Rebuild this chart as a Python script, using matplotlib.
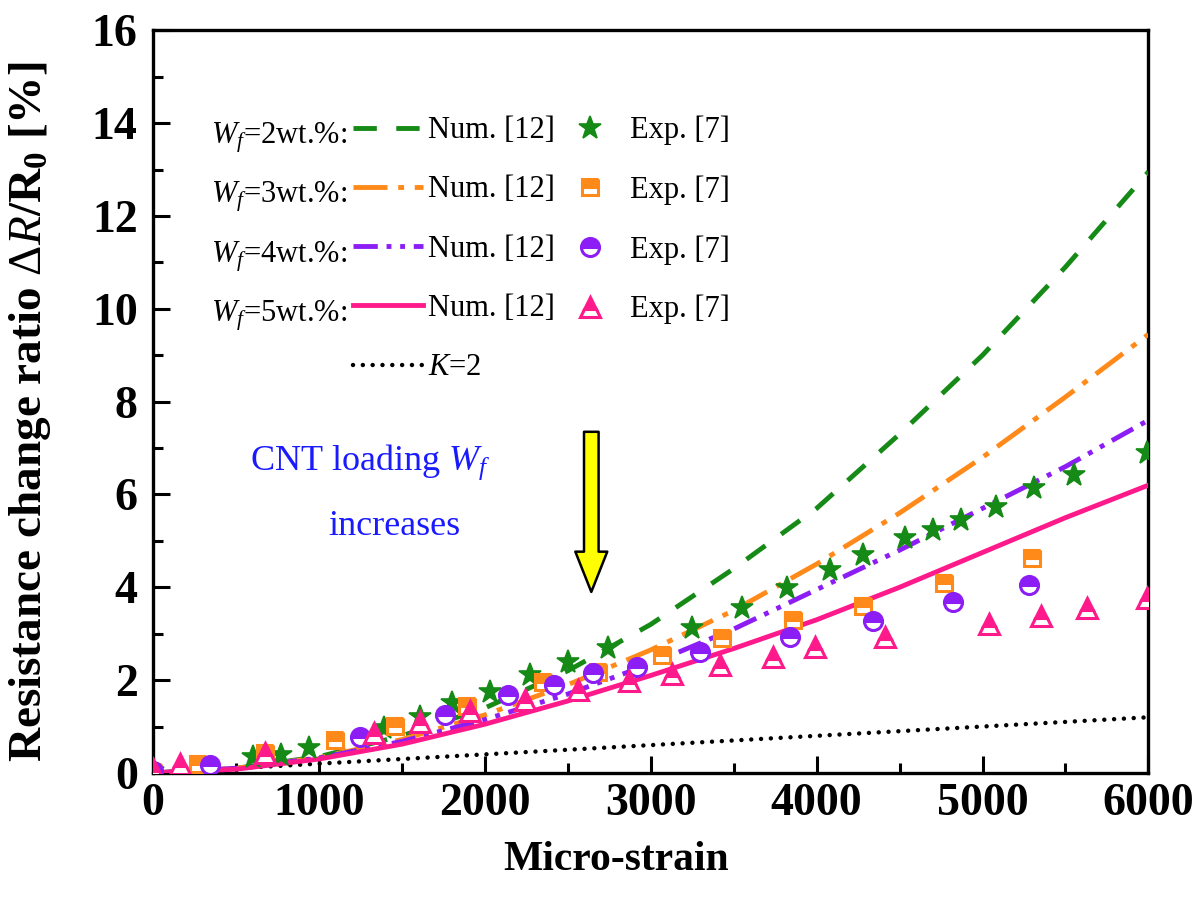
import numpy as np
import matplotlib
matplotlib.use("Agg")
import matplotlib.pyplot as plt

plt.rcParams['font.family'] = ['Liberation Serif', 'DejaVu Serif']
plt.rcParams['mathtext.fontset'] = 'custom'
plt.rcParams['mathtext.rm'] = 'Liberation Serif'
plt.rcParams['mathtext.it'] = 'Liberation Serif:italic'
plt.rcParams['mathtext.bf'] = 'Liberation Serif:bold'

# numerical curves [12]
strain_num = [0, 500, 1000, 1500, 2000, 2500, 3000, 3500, 4000, 4500, 5000, 5500, 6000]
num_2wt = [0, 0.10, 0.35, 0.80, 1.40, 2.20, 3.20, 4.40, 5.70, 7.30, 9.00, 10.90, 12.95]
num_3wt = [0, 0.10, 0.33, 0.72, 1.25, 1.90, 2.65, 3.50, 4.50, 5.60, 6.80, 8.10, 9.45]
num_4wt = [0, 0.10, 0.32, 0.68, 1.15, 1.70, 2.35, 3.10, 3.95, 4.80, 5.70, 6.60, 7.60]
num_5wt = [0, 0.08, 0.30, 0.62, 1.05, 1.55, 2.10, 2.68, 3.30, 4.00, 4.75, 5.50, 6.20]

# K=2 reference
strain_k2 = [0, 6000]
k2_vals = [0, 1.2]

# experiments [7]
exp2_x = [0, 600, 770, 940, 1390, 1610, 1800, 2030, 2270, 2500, 2740, 3250, 3550, 3820,
          4080, 4280, 4530, 4700, 4870, 5080, 5310, 5550, 5990]
exp2_y = [0.05, 0.34, 0.39, 0.54, 0.97, 1.21, 1.51, 1.75, 2.11, 2.39, 2.69, 3.12, 3.56, 3.99,
          4.37, 4.70, 5.06, 5.24, 5.45, 5.73, 6.14, 6.42, 6.90]
exp3_x = [0, 270, 675, 1100, 1460, 1890, 2350, 2680, 3070, 3430, 3860, 4280, 4770, 5300]
exp3_y = [0.03, 0.19, 0.43, 0.71, 1.01, 1.44, 1.96, 2.18, 2.54, 2.90, 3.30, 3.60, 4.09, 4.63]
exp4_x = [0, 345, 1250, 1760, 2140, 2420, 2650, 2920, 3300, 3840, 4340, 4820, 5280]
exp4_y = [0.05, 0.17, 0.78, 1.25, 1.68, 1.90, 2.15, 2.28, 2.60, 2.93, 3.27, 3.68, 4.05]
exp5_x = [0, 160, 675, 1330, 1610, 1910, 2240, 2560, 2870, 3130, 3420, 3740, 3990, 4410,
          5040, 5350, 5630, 5990]
exp5_y = [0.08, 0.19, 0.43, 0.86, 1.10, 1.33, 1.57, 1.79, 1.98, 2.13, 2.33, 2.50, 2.72, 2.93,
          3.20, 3.38, 3.56, 3.78]

wf_labels = ['2wt.%', '3wt.%', '4wt.%', '5wt.%']
colors = ['#168a16', '#ff8a1a', '#8c1ef5', '#ff1a8c']

fig = plt.figure(figsize=(12, 9.18), dpi=100)
ax = fig.add_axes([0.1275, 0.158, 0.8295, 0.809])

lw = 3.5
l2, = ax.plot(strain_num, num_2wt, color=colors[0], lw=lw, dashes=(4.8, 4.0), zorder=3)
l3, = ax.plot(strain_num, num_3wt, color=colors[1], lw=lw, dashes=(7, 2.2, 1.2, 2.2), zorder=3)
l4, = ax.plot(strain_num, num_4wt, color=colors[2], lw=lw, dashes=(5, 1.8, 1, 1.8, 1, 1.8), zorder=3)
l5, = ax.plot(strain_num, num_5wt, color=colors[3], lw=lw, zorder=3)
lk, = ax.plot(strain_k2, k2_vals, color='black', lw=3.2, dashes=(0.01, 2.2),
              dash_capstyle='round', zorder=2)

m2, = ax.plot(exp2_x, exp2_y, ls='none', marker='*', ms=17, mfc=colors[0], mec=colors[0],
              mew=1.2, zorder=4)
m3, = ax.plot(exp3_x, exp3_y, ls='none', marker='s', ms=12, mfc=colors[1], mec=colors[1],
              mfcalt='white', fillstyle='top', mew=2.2, zorder=4)
m4, = ax.plot(exp4_x, exp4_y, ls='none', marker='o', ms=13, mfc=colors[2], mec=colors[2],
              mfcalt='white', fillstyle='top', mew=2.2, zorder=4)
m5, = ax.plot(exp5_x, exp5_y, ls='none', marker='^', ms=14, mfc=colors[3], mec=colors[3],
              mfcalt='white', fillstyle='top', mew=2.2, zorder=4)

ax.set_xlim(0, 6000)
ax.set_ylim(0, 16)
ax.set_xticks(range(0, 6001, 1000))
ax.set_yticks(range(0, 17, 2))
ax.set_xticks(range(500, 6000, 1000), minor=True)
ax.set_yticks(range(1, 16, 2), minor=True)
ax.tick_params(which='both', direction='in', top=False, right=False, width=2.2,
               labelsize=33)
ax.tick_params(axis='x', which='major', pad=7)
ax.tick_params(axis='y', which='major', pad=11)
ax.tick_params(which='major', length=12)
ax.tick_params(which='minor', length=7)
for lab in ax.get_xticklabels() + ax.get_yticklabels():
    lab.set_fontweight('bold')
for sp in ax.spines.values():
    sp.set_linewidth(2.4)

ax.set_xlabel('Micro-strain', fontsize=30, fontweight='bold')
ax.xaxis.set_label_coords(0.465, -0.091)
ax.set_ylabel(r'Resistance change ratio $\Delta R$/R$_\mathbf{0}$ [%]', fontsize=34,
              fontweight='bold')
ax.yaxis.set_label_coords(-0.1, 0.486)

# legend: lines in first column (with K=2 as fifth row), markers in second
handles = [l2, l3, l4, l5, lk, m2, m3, m4, m5]
labels = ['Num. [12]'] * 4 + [r'$K$=2'] + ['Exp. [7]'] * 4
leg = ax.legend(handles, labels, ncol=2, loc='upper left', bbox_to_anchor=(0.201, 0.885),
                frameon=False, fontsize=22, handlelength=2.3, handletextpad=0.15,
                columnspacing=0.0, labelspacing=0.99, borderpad=0, borderaxespad=0)
row_base = [0.8479, 0.7678, 0.6877, 0.6077]
for lab, yy in zip(wf_labels, row_base):
    ax.text(0.195, yy, r'$W_f$=' + lab + ':', transform=ax.transAxes, fontsize=22,
            ha='right', va='baseline')

# annotation
ax.text(0.0975, 0.4078, r'CNT loading $W_f$', transform=ax.transAxes, fontsize=26,
        color='#1a1aff', ha='left', va='baseline')
ax.text(0.176, 0.3203, 'increases', transform=ax.transAxes, fontsize=26,
        color='#1a1aff', ha='left', va='baseline')
ax.annotate('', xy=(2642, 3.9), xytext=(2642, 7.35),
            arrowprops=dict(arrowstyle='simple,head_length=2.9,head_width=2.3,tail_width=1.05',
                            fc='#ffff00', ec='black', lw=1.8, shrinkA=0, shrinkB=0))

fig.savefig('out.png', dpi=100)
